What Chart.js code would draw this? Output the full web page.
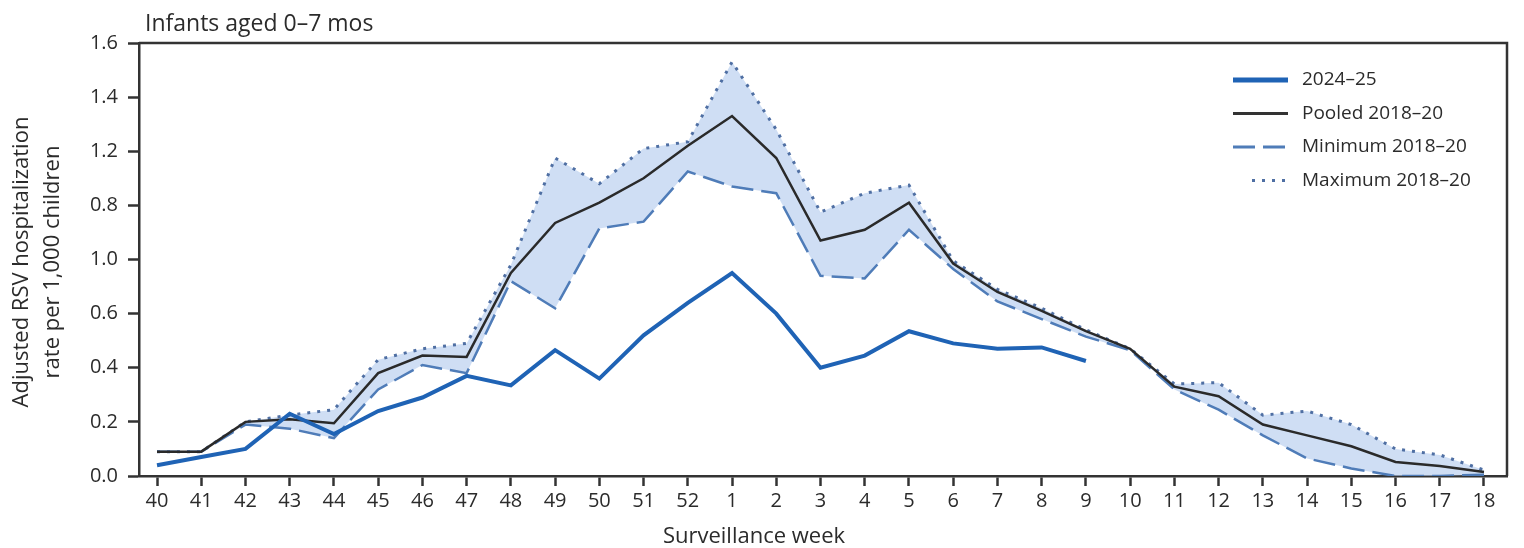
<!DOCTYPE html>
<html>
<head>
<meta charset="utf-8">
<script src="https://cdn.jsdelivr.net/npm/chart.js@4"></script>
<style>
  html, body { margin: 0; padding: 0; background: #fff; }
  #wrap { width: 1524px; height: 548px; }
</style>
</head>
<body>
<div id="wrap"><canvas id="rsv" width="1524" height="548"></canvas></div>
<script>
// surveillance weeks, 2024 wk 40 through 2025 wk 18
const weeks = ['40','41','42','43','44','45','46','47','48','49','50','51','52',
  '1','2','3','4','5','6','7','8','9','10','11','12','13','14','15','16','17','18'];

// y tick labels as printed in the source figure (1.0 and 0.8 swapped there)
const yTickLabels = ['0.0','0.2','0.4','0.6','1.0','0.8','1.2','1.4','1.6'];

const season2425 = [0.04, 0.07, 0.10, 0.23, 0.155, 0.24, 0.29, 0.37, 0.335, 0.465, 0.36, 0.52, 0.64,
  0.75, 0.60, 0.40, 0.445, 0.535, 0.49, 0.47, 0.475, 0.425];

const pooled = [0.09, 0.09, 0.20, 0.21, 0.195, 0.38, 0.445, 0.44, 0.75, 0.935, 1.01, 1.10, 1.22,
  1.33, 1.175, 0.87, 0.91, 1.01, 0.785, 0.68, 0.61, 0.535, 0.47, 0.33, 0.295, 0.19, 0.15, 0.11, 0.052, 0.037, 0.015];

const minimum = [0.09, 0.09, 0.19, 0.175, 0.14, 0.32, 0.41, 0.38, 0.72, 0.62, 0.915, 0.94, 1.125,
  1.07, 1.045, 0.74, 0.73, 0.91, 0.765, 0.645, 0.58, 0.515, 0.465, 0.32, 0.245, 0.15, 0.065, 0.028, 0.0, 0.0, 0.005];

const maximum = [0.09, 0.09, 0.20, 0.225, 0.245, 0.43, 0.47, 0.49, 0.78, 1.175, 1.08, 1.21, 1.235,
  1.53, 1.28, 0.975, 1.045, 1.075, 0.795, 0.69, 0.62, 0.54, 0.47, 0.34, 0.345, 0.225, 0.24, 0.19, 0.10, 0.078, 0.022];

const FONT = '"Open Sans", sans-serif';
const INK = '#333';
const TEXT = '#2b2b2b';

const toPts = arr => arr.map((v, i) => ({ x: i, y: v }));

// legend rows: label, color, width, dash
const legendRows = [
  { text: '2024–25', color: '#1f63b5', width: 5, dash: [], x0: 1233 },
  { text: 'Pooled 2018–20', color: '#333', width: 3, dash: [], x0: 1233 },
  { text: 'Minimum 2018–20', color: '#4f7cb8', width: 3, dash: [22, 8], x0: 1233 },
  { text: 'Maximum 2018–20', color: '#4f6fa3', width: 3, dash: [3, 7], x0: 1252 }
];

const decor = {
  id: 'decor',
  afterDraw(chart) {
    const ctx = chart.ctx;
    const a = chart.chartArea;
    ctx.save();
    // frame top + right
    ctx.strokeStyle = INK;
    ctx.lineWidth = 2.5;
    ctx.beginPath();
    ctx.moveTo(a.left, a.top);
    ctx.lineTo(a.right, a.top);
    ctx.lineTo(a.right, a.bottom);
    ctx.stroke();

    // title
    ctx.fillStyle = TEXT;
    ctx.font = '23px ' + FONT;
    ctx.textAlign = 'left';
    ctx.textBaseline = 'alphabetic';
    ctx.fillText('Infants aged 0–7 mos', 145, 31);

    // x axis title
    ctx.textAlign = 'center';
    ctx.font = '22px ' + FONT;
    ctx.fillText('Surveillance week', 754, 543);

    // y axis title
    ctx.save();
    ctx.translate(0, 262);
    ctx.rotate(-Math.PI / 2);
    ctx.font = '22px ' + FONT;
    ctx.fillText('Adjusted RSV hospitalization', 0, 28);
    ctx.fillText('rate per 1,000 children', 0, 59);
    ctx.restore();

    // legend
    legendRows.forEach((r, i) => {
      const y = 80 + i * 33.5;
      ctx.strokeStyle = r.color;
      ctx.lineWidth = r.width;
      ctx.setLineDash(r.dash);
      ctx.beginPath();
      ctx.moveTo(r.x0, y);
      ctx.lineTo(1288, y);
      ctx.stroke();
      ctx.setLineDash([]);
      ctx.fillStyle = TEXT;
      ctx.textAlign = 'left';
      ctx.textBaseline = 'middle';
      ctx.font = '19px ' + FONT;
      ctx.fillText(r.text, 1302, y);
    });
    ctx.restore();
  }
};

new Chart(document.getElementById('rsv'), {
  type: 'line',
  data: {
    datasets: [
      {
        label: '2024–25',
        data: toPts(season2425),
        borderColor: '#1f63b5',
        borderWidth: 4,
        pointRadius: 0,
        fill: false,
        order: 0
      },
      {
        label: 'Pooled 2018–20',
        data: toPts(pooled),
        borderColor: '#2a2a2a',
        borderWidth: 2.5,
        pointRadius: 0,
        fill: false,
        order: 1
      },
      {
        label: 'Minimum 2018–20',
        data: toPts(minimum),
        borderColor: '#4f7cb8',
        borderWidth: 2.5,
        borderDash: [22, 8],
        pointRadius: 0,
        fill: false,
        order: 2
      },
      {
        label: 'Maximum 2018–20',
        data: toPts(maximum),
        borderColor: '#4f6fa3',
        borderWidth: 3,
        borderDash: [3, 7],
        pointRadius: 0,
        fill: { target: 2 },
        backgroundColor: 'rgba(178, 202, 238, 0.62)',
        order: 3
      }
    ]
  },
  options: {
    responsive: false,
    animation: false,
    layout: { padding: { top: 43, right: 17, left: 0, bottom: 0 } },
    plugins: {
      legend: { display: false },
      tooltip: { enabled: false },
      filler: { propagate: false }
    },
    elements: { line: { tension: 0 } },
    scales: {
      x: {
        type: 'linear',
        min: -0.407,
        max: 30.52,
        afterBuildTicks: s => { s.ticks = weeks.map((w, i) => ({ value: i })); },
        afterFit: s => { s.height = 72; },
        ticks: {
          callback: v => weeks[v],
          color: TEXT,
          font: { family: FONT, size: 20 },
          padding: 3,
          maxRotation: 0,
          autoSkip: false
        },
        grid: { drawOnChartArea: false, drawTicks: true, tickLength: 10, tickColor: INK, tickWidth: 2.5 },
        border: { display: true, color: INK, width: 2.5 }
      },
      y: {
        min: 0,
        max: 1.6,
        afterBuildTicks: s => { s.ticks = yTickLabels.map((t, i) => ({ value: i * 0.2 })); },
        afterFit: s => { s.width = 139; },
        ticks: {
          callback: (v, i) => yTickLabels[i],
          color: TEXT,
          font: { family: FONT, size: 20 },
          padding: 10
        },
        grid: { drawOnChartArea: false, drawTicks: true, tickLength: 11, tickColor: INK, tickWidth: 2.5 },
        border: { display: true, color: INK, width: 2.5 }
      }
    }
  },
  plugins: [decor]
});
</script>
</body>
</html>
